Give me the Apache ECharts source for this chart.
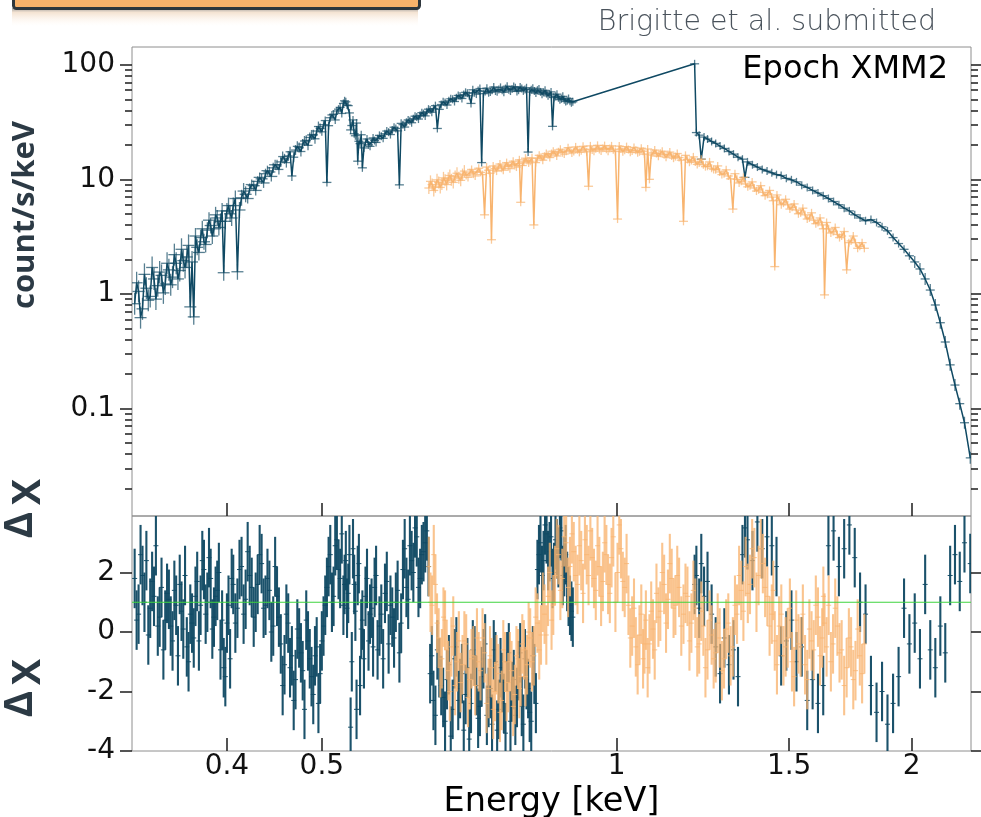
<!DOCTYPE html>
<html>
<head>
<meta charset="utf-8">
<script src="https://cdn.jsdelivr.net/npm/echarts@6/dist/echarts.min.js"></script>
<style>
  html, body { margin: 0; padding: 0; background: #ffffff; }
  #chart { width: 981px; height: 817px; }
</style>
</head>
<body>
<div id="chart"></div>
<script>
// ---- axis ticks -------------------------------------------------------
const energyTicks = [0.4, 0.5, 1, 1.5, 2];
const rateMajorTicks = [0.1, 1, 10, 100];
const rateMinorTicks = [0.02, 0.03, 0.04, 0.05, 0.06, 0.07, 0.08, 0.09,
  0.2, 0.3, 0.4, 0.5, 0.6, 0.7, 0.8, 0.9, 2, 3, 4, 5, 6, 7, 8, 9,
  20, 30, 40, 50, 60, 70, 80, 90];
const residualTicks = [-4, -2, 0, 2];
const referenceLevel = 1;
const residualSigma = 1;

// ---- XMM2 spectrum, soft band (keV, count/s/keV, residual) ------------
const darkLowE = [
  0.322, 0.325, 0.328, 0.331, 0.334, 0.337, 0.340, 0.343, 0.346, 0.349,
  0.352, 0.355, 0.358, 0.361, 0.364, 0.367, 0.370, 0.373, 0.376, 0.379,
  0.382, 0.385, 0.388, 0.391, 0.394, 0.397, 0.400, 0.403, 0.406, 0.410,
  0.414, 0.418, 0.422, 0.426, 0.430, 0.434, 0.438, 0.442, 0.446, 0.450,
  0.454, 0.458, 0.462, 0.466, 0.470, 0.474, 0.478, 0.482, 0.486, 0.490,
  0.494, 0.498, 0.502, 0.506, 0.510, 0.514, 0.518, 0.522, 0.526, 0.529,
  0.532, 0.535, 0.538, 0.541, 0.544, 0.547, 0.550, 0.554, 0.558, 0.562,
  0.566, 0.570, 0.575, 0.580, 0.585, 0.590, 0.595, 0.600, 0.605, 0.610,
  0.615, 0.620, 0.625, 0.630, 0.635, 0.640, 0.645, 0.650, 0.656, 0.662,
  0.668, 0.674, 0.680, 0.686, 0.692, 0.698, 0.704, 0.710, 0.716, 0.722,
  0.728, 0.734, 0.740, 0.746, 0.752, 0.758, 0.764, 0.770, 0.776, 0.782,
  0.788, 0.794, 0.800, 0.806, 0.812, 0.818, 0.824, 0.830, 0.836, 0.842,
  0.848, 0.854, 0.860, 0.866, 0.872, 0.878, 0.884, 0.890, 0.896, 0.902
];
const darkLowFlux = [
  0.82, 1.05, 0.74, 1.12, 0.95, 1.35, 1.18, 1.45, 1.22, 1.62,
  1.40, 1.85, 1.60, 1.95, 2.10, 0.77, 0.63, 2.55, 3.10, 2.85,
  3.60, 3.95, 3.70, 4.60, 4.30, 1.53, 5.30, 5.00, 5.90, 1.56,
  6.90, 7.40, 8.30, 8.80, 9.60, 10.1, 11.2, 11.6, 12.6, 13.4,
  14.2, 15.1, 16.0, 10.7, 18.0, 19.0, 20.3, 21.9, 23.2, 24.5,
  26.4, 27.8, 30.0, 9.4, 34.5, 37.0, 39.5, 42.5, 46.0, 47.5,
  44.0, 27.0, 33.0, 24.0, 14.4, 20.5, 12.6, 21.0, 20.0, 21.0,
  21.8, 22.6, 23.8, 25.0, 25.8, 27.0, 27.8, 8.95, 30.0, 31.5,
  32.4, 33.8, 35.0, 36.2, 37.5, 39.0, 40.2, 41.5, 27.8, 45.0,
  46.8, 48.5, 50.0, 51.5, 53.5, 55.0, 56.5, 46.0, 57.0, 59.5,
  14.0, 58.5, 57.0, 60.0, 59.0, 61.0, 60.0, 62.0, 60.5, 61.5,
  63.0, 60.0, 62.0, 61.0, 17.3, 60.5, 59.0, 60.0, 58.0, 57.5,
  56.0, 55.5, 29.0, 53.0, 51.5, 50.5, 49.5, 48.5, 48.0, 47.5
];
const darkLowRes = [
  1.8, 0.6, 1.9, 2.4, 0.8, 1.2, 0.2, 1.5, 0.4, 1.1,
  -0.3, 0.9, 1.6, 0.1, -0.5, 0.6, -0.2, 1.7, 0.9, 2.1,
  1.0, 1.8, 0.5, 1.4, -0.6, -1.2, 0.3, -0.9, 1.6, 0.8,
  2.2, 1.1, 1.9, 0.5, 1.6, 2.3, 0.9, 1.4, 0.2, 1.2,
  -0.4, -1.1, 0.3, -0.8, -1.6, -0.2, -1.3, 0.4, -0.9, -2.1,
  -0.5, -1.4, 0.2, 1.5, 2.6, 1.2, 3.1, 1.8, 0.9, 2.4,
  1.3, -3.2, 2.8, 0.7, 1.9, -1.8, 0.4, 1.2, -0.3, 0.8,
  1.5, -0.6, 0.6, 1.3, -0.4, 0.5, 1.0, -0.7, 2.1, 1.5,
  2.9, 2.0, 3.2, 1.8, 2.7, 3.4, -1.4, -2.3, -0.6, -1.8,
  -3.0, -1.1, -2.6, -0.5, -1.9, -3.3, -1.2, -2.4, -0.8, -2.9,
  -1.5, -0.4, -2.2, -3.1, -1.0, -2.6, -1.7, -3.4, -0.7, -2.0,
  -2.8, -1.3, -2.5, -0.9, -1.9, -3.0, -1.4, 2.1, 3.0, 2.4,
  3.3, 2.7, 1.8, 3.1, 2.5, 3.4, 2.2, 1.7, 0.9, 0.5
];

// second set of soft-band channels, interleaved with the first
const darkLowE2 = [
  0.3235, 0.3265, 0.3295, 0.3325, 0.3355, 0.3385, 0.3415, 0.3445, 0.3475, 0.3505,
  0.3535, 0.3565, 0.3595, 0.3625, 0.3655, 0.3685, 0.3715, 0.3745, 0.3775, 0.3805,
  0.3835, 0.3865, 0.3895, 0.3925, 0.3955, 0.3985, 0.4015, 0.4045, 0.408, 0.412,
  0.416, 0.420, 0.424, 0.428, 0.432, 0.436, 0.440, 0.444, 0.448, 0.452,
  0.456, 0.460, 0.464, 0.468, 0.472, 0.476, 0.480, 0.484, 0.488, 0.492,
  0.496, 0.500, 0.504, 0.508, 0.512, 0.516, 0.520, 0.524, 0.5275, 0.5305,
  0.5335, 0.5365, 0.5395, 0.5425, 0.5455, 0.5485, 0.552, 0.556, 0.560, 0.564,
  0.568, 0.5725, 0.5775, 0.5825, 0.5875, 0.5925, 0.5975, 0.6025, 0.6075, 0.6125,
  0.6175, 0.6225, 0.6275, 0.6325, 0.6375, 0.6425, 0.6475, 0.653, 0.659, 0.665,
  0.671, 0.677, 0.683, 0.689, 0.695, 0.701, 0.707, 0.713, 0.719, 0.725,
  0.731, 0.737, 0.743, 0.749, 0.755, 0.761, 0.767, 0.773, 0.779, 0.785,
  0.791, 0.797, 0.803, 0.809, 0.815, 0.821, 0.827, 0.833, 0.839, 0.845,
  0.851, 0.857, 0.863, 0.869, 0.875, 0.881, 0.887, 0.893, 0.899
];
const darkLowFlux2 = [
  1.25, 0.62, 1.48, 0.88, 1.70, 0.90, 1.55, 1.02, 1.85, 1.20,
  2.20, 1.35, 2.45, 1.70, 2.65, 1.90, 3.20, 2.30, 3.70, 2.70,
  4.40, 3.20, 4.90, 3.80, 5.30, 4.30, 5.90, 4.60, 6.80, 5.40,
  7.90, 6.80, 9.00, 8.00, 10.4, 9.30, 11.9, 10.6, 13.4, 12.2,
  15.8, 14.0, 17.4, 15.6, 19.4, 17.5, 21.6, 19.8, 24.4, 22.6,
  28.9, 26.0, 32.6, 29.4, 36.5, 33.0, 41.0, 37.6, 48.5, 44.5,
  38.0, 29.5, 25.0, 31.0, 21.5, 24.5, 18.8, 22.5, 19.4, 23.0,
  21.0, 24.2, 22.8, 26.4, 24.6, 28.5, 26.5, 30.8, 28.6, 33.0,
  31.2, 35.6, 33.6, 38.2, 35.8, 41.0, 38.6, 44.0, 40.8, 47.5,
  44.5, 50.5, 47.8, 54.0, 50.8, 57.5, 53.6, 60.5, 55.5, 62.0,
  56.0, 62.5, 57.8, 64.0, 58.2, 63.5, 57.6, 65.0, 59.0, 64.5,
  58.5, 64.0, 59.2, 63.0, 57.8, 62.5, 56.6, 61.5, 55.4, 59.8,
  53.6, 58.0, 51.8, 55.4, 49.6, 53.0, 47.8, 50.8, 46.6
];
const darkLowRes2 = [
  0.4, 2.6, 1.0, -0.1, 1.7, 2.9, 0.5, -0.6, 1.3, 0.2,
  1.4, -0.8, 0.7, 1.9, -1.0, 0.3, 1.2, -0.3, 2.4, 0.6,
  2.5, 0.1, 1.2, 2.0, 0.4, -1.5, 0.9, 1.8, 0.3, 2.1,
  0.6, 2.7, 1.5, 1.0, 2.6, 0.8, 1.8, 0.0, 2.2, 0.5,
  -1.8, 0.6, -1.2, -2.3, 0.1, -0.7, -2.6, -0.3, -1.5, -0.8,
  -2.4, -0.3, 0.9, 2.2, 1.0, 2.9, 2.1, 3.3, 1.6, 0.8,
  2.6, -1.0, 1.6, -2.6, 2.3, 0.1, -0.9, 1.8, 0.6, -0.5,
  1.9, 0.2, -0.9, 1.7, 0.9, -0.2, 1.4, 0.3, 2.8, 1.1,
  2.4, 3.5, 1.5, 2.6, 3.0, 2.2, -0.8, -2.8, -1.2, -2.2,
  -1.6, -3.5, -0.9, -2.3, -1.4, -2.1, -3.6, -0.6, -1.8, -2.5,
  -0.9, -2.8, -1.9, -0.6, -3.3, -1.2, -2.4, -1.0, -3.0, -1.6,
  -2.2, -0.7, -3.1, -1.6, -2.7, -0.8, -2.4, 2.6, 1.9, 3.6,
  2.4, 3.2, 2.0, 2.8, 3.5, 1.9, 2.6, 1.2, 0.7
];

// ---- XMM2 spectrum, hard band -----------------------------------------
const darkHighE = [
  1.201, 1.206, 1.214, 1.220, 1.228, 1.238, 1.250, 1.262, 1.275, 1.288,
  1.302, 1.316, 1.330, 1.344, 1.352, 1.360, 1.376, 1.392, 1.408, 1.424,
  1.440, 1.456, 1.472, 1.490, 1.508, 1.526, 1.545, 1.565, 1.585, 1.605,
  1.625, 1.645, 1.665, 1.686, 1.707, 1.728, 1.750, 1.772, 1.795, 1.818,
  1.842, 1.866, 1.890, 1.915, 1.940, 1.965, 1.990, 2.015, 2.040, 2.065,
  2.090, 2.115, 2.140, 2.165, 2.190, 2.215, 2.240, 2.265, 2.296
];
const darkHighFlux = [
  102, 25.6, 24.3, 15.0, 23.4, 22.5, 21.4, 20.6, 19.5, 18.6,
  17.5, 16.6, 15.6, 15.0, 10.4, 14.2, 13.4, 12.8, 12.2, 11.8,
  11.4, 11.0, 10.8, 10.2, 9.9, 9.5, 8.9, 8.5, 8.0, 7.6,
  7.2, 6.8, 6.4, 6.0, 5.6, 5.3, 4.9, 4.6, 4.35, 4.45,
  4.2, 3.85, 3.55, 3.1, 2.75, 2.45, 2.15, 1.90, 1.65, 1.35,
  1.08, 0.80, 0.56, 0.38, 0.24, 0.16, 0.11, 0.075, 0.037
];
const darkHighRes = [
  1.6, 1.9, 0.8, 2.3, 1.2, 1.7, 0.6, -0.5, -1.4, -0.2,
  -1.1, -0.6, -1.5, 2.6, 3.5, 3.1, 2.4, 3.7, 2.8, 3.2,
  2.9, 2.2, -0.8, -0.3, 0.4, -1.0, -0.5, -2.3, -1.6, -2.4,
  -1.8, 2.9, 3.4, 2.2, 2.8, 3.6, 2.5, 1.0, 0.6, -1.8,
  -2.7, -2.0, -3.1, -2.4, -1.5, 0.8, -0.4, 0.3, -0.9, 1.6,
  -0.6, -1.2, 0.2, -0.7, 1.9, 2.6, 1.7, 3.0, 2.3
];

// ---- second instrument spectrum ----------------------------------------
const orangeE = [
  0.643, 0.648, 0.653, 0.658, 0.663, 0.668, 0.673, 0.678, 0.684, 0.690,
  0.696, 0.702, 0.708, 0.714, 0.720, 0.726, 0.733, 0.740, 0.745, 0.751,
  0.757, 0.763, 0.769, 0.775, 0.781, 0.787, 0.793, 0.798, 0.804, 0.810,
  0.816, 0.823, 0.830, 0.837, 0.844, 0.851, 0.858, 0.865, 0.872, 0.880,
  0.888, 0.896, 0.904, 0.912, 0.920, 0.928, 0.936, 0.944, 0.952, 0.960,
  0.968, 0.976, 0.984, 0.992, 1.002, 1.010, 1.019, 1.028, 1.037, 1.046,
  1.055, 1.064, 1.071, 1.080, 1.089, 1.098, 1.108, 1.118, 1.128, 1.138,
  1.148, 1.158, 1.170, 1.181, 1.192, 1.203, 1.214, 1.226, 1.238, 1.250,
  1.262, 1.274, 1.287, 1.300, 1.314, 1.327, 1.340, 1.354, 1.368, 1.382,
  1.396, 1.410, 1.425, 1.440, 1.450, 1.465, 1.480, 1.495, 1.510, 1.525,
  1.541, 1.557, 1.573, 1.589, 1.605, 1.621, 1.630, 1.646, 1.663, 1.680,
  1.697, 1.717, 1.735, 1.753, 1.771, 1.790
];
const orangeFlux = [
  8.4, 9.0, 8.6, 9.4, 9.1, 9.8, 10.2, 9.9, 10.6, 10.3,
  11.0, 10.8, 11.4, 11.1, 11.7, 11.5, 4.9, 12.0, 2.97, 12.4,
  12.8, 12.5, 13.1, 12.9, 13.5, 13.2, 13.8, 6.3, 14.2, 14.6,
  14.4, 4.0, 15.2, 15.6, 15.9, 16.4, 16.8, 17.0, 17.4, 17.1,
  17.6, 17.9, 17.5, 18.1, 17.8, 18.3, 8.7, 18.0, 18.5, 18.2,
  18.7, 18.3, 18.6, 18.1, 4.5, 18.4, 17.9, 18.2, 17.7, 17.9,
  17.4, 17.6, 8.5, 10.0, 17.0, 16.8, 16.9, 16.4, 16.5, 16.0,
  15.8, 15.5, 4.3, 14.9, 14.6, 14.2, 13.9, 13.4, 13.0, 12.5,
  12.1, 11.6, 11.2, 10.7, 5.5, 10.0, 9.6, 9.1, 8.8, 8.4,
  8.1, 7.7, 7.4, 7.0, 1.73, 6.6, 6.2, 6.0, 5.7, 5.4,
  5.1, 4.9, 4.6, 4.4, 4.2, 4.0, 0.98, 3.7, 3.5, 3.3,
  3.2, 1.62, 2.9, 2.8, 2.6, 2.5
];
const orangeRes = [
  2.2, 0.9, 1.6, -0.2, -0.9, 0.4, -1.3, -0.5, -1.8, -0.3,
  -1.1, -0.4, -1.6, -0.8, -0.2, -1.3, -0.7, -1.9, -1.2, -2.0,
  -1.4, -2.3, -1.0, -1.7, -1.3, -2.1, -0.9, -1.5, -0.6, -1.1,
  -0.2, -0.8, 0.3, -0.1, 0.6, 1.2, 0.4, 1.9, 2.6, 1.8,
  3.0, 2.2, 2.7, 1.6, 2.4, 3.1, 1.9, 2.5, 1.4, 2.2,
  1.7, 2.6, 1.3, 3.2, 2.0, 2.8, 1.5, 0.9, 0.2, -0.5,
  -0.1, -0.9, 0.4, -0.4, 0.1, 1.3, 0.7, 1.6, 1.1, 1.8,
  0.9, 1.5, 0.6, 1.2, 0.3, 0.8, -0.4, 0.2, -0.6, -0.1,
  -0.7, -0.2, -0.9, 0.3, -0.5, 0.6, 1.4, 2.2, 1.6, 2.5,
  1.9, 2.3, 1.2, 0.6, -0.3, 0.2, -0.8, -0.2, -1.0, 0.4,
  -0.5, -1.1, 0.1, -0.6, 0.5, -0.2, 0.3, 0.9, -0.4, 0.2,
  -0.6, -1.2, -0.5, -1.3, -0.8, -0.4
];

// interleaved channels of the second instrument
const orangeE2 = [
  0.6455, 0.6505, 0.6555, 0.6605, 0.6655, 0.6705, 0.6755, 0.681, 0.687, 0.693,
  0.699, 0.705, 0.711, 0.717, 0.723, 0.7295, 0.7365, 0.7425, 0.748, 0.754,
  0.760, 0.766, 0.772, 0.778, 0.784, 0.790, 0.7955, 0.801, 0.807, 0.813,
  0.8195, 0.8265, 0.8335, 0.8405, 0.8475, 0.8545, 0.8615, 0.8685, 0.876, 0.884,
  0.892, 0.900, 0.908, 0.916, 0.924, 0.932, 0.940, 0.948, 0.956, 0.964,
  0.972, 0.980, 0.988, 0.997, 1.006, 1.0145, 1.0235, 1.0325, 1.0415, 1.0505,
  1.0595, 1.0675, 1.0755, 1.0845, 1.0935, 1.103, 1.113, 1.123, 1.133, 1.143,
  1.153, 1.164, 1.1755, 1.1865, 1.1975, 1.2085, 1.220, 1.232, 1.244, 1.256,
  1.268, 1.2805, 1.2935, 1.307, 1.3205, 1.3335, 1.347, 1.361, 1.375, 1.389,
  1.403, 1.4175, 1.4325, 1.445, 1.4575, 1.4725, 1.4875, 1.5025, 1.5175, 1.533,
  1.549, 1.565, 1.581, 1.597, 1.613, 1.6255, 1.638, 1.6545, 1.6715, 1.6885,
  1.707, 1.726, 1.744, 1.762, 1.7805
];
const orangeFlux2 = [
  9.6, 8.0, 9.9, 8.5, 10.3, 9.0, 10.8, 9.4, 11.3, 9.8,
  11.8, 10.4, 12.2, 10.7, 12.5, 11.0, 12.8, 11.3, 13.1, 11.8,
  13.6, 12.0, 14.0, 12.4, 14.4, 12.8, 14.8, 13.2, 15.3, 13.9,
  15.4, 14.0, 16.2, 14.7, 16.8, 15.5, 17.6, 16.0, 18.3, 16.6,
  18.9, 17.0, 19.2, 17.2, 19.4, 17.4, 19.6, 17.6, 19.8, 17.7,
  19.7, 17.6, 19.6, 17.5, 19.5, 17.4, 19.3, 17.2, 19.0, 17.1,
  18.7, 16.6, 18.4, 16.3, 18.0, 15.9, 17.6, 15.6, 17.3, 15.3,
  16.8, 14.7, 16.2, 14.1, 15.7, 13.5, 15.0, 12.9, 14.2, 12.2,
  13.1, 11.0, 12.1, 10.1, 11.2, 9.3, 10.4, 8.6, 9.5, 7.9,
  8.8, 7.2, 8.0, 6.5, 7.3, 6.0, 6.7, 5.5, 6.1, 5.0,
  5.6, 4.5, 5.1, 4.1, 4.6, 3.7, 4.2, 3.4, 3.8, 3.1,
  3.5, 2.8, 3.2, 2.5, 2.8
];
const orangeRes2 = [
  1.0, 2.6, 0.3, -1.2, 0.5, -0.6, -2.0, 0.2, -1.0, -1.7,
  -0.3, -2.2, -0.9, -1.8, -1.0, -0.2, -2.4, -0.8, -2.6, -1.1,
  -2.7, -0.6, -2.0, -1.0, -2.5, -0.8, -1.9, -0.4, -1.5, 0.0,
  -1.0, 0.5, -0.6, 1.0, -0.1, 2.0, 0.9, 2.8, 1.4, 3.2,
  1.5, 3.3, 1.9, 2.9, 1.3, 2.6, 3.4, 1.8, 2.9, 1.2,
  3.0, 1.6, 2.5, 1.0, 3.6, 1.7, 2.3, -0.2, 0.8, -1.1,
  0.6, -0.4, -1.2, 0.7, -0.6, 0.5, 2.0, 0.3, 2.3, 0.8,
  1.9, 0.2, 1.3, -0.3, 1.4, -0.5, 0.7, -1.2, 0.4, -0.9,
  0.3, -1.3, 0.1, -0.8, 0.9, 1.9, 0.7, 1.3, 2.8, 1.0,
  2.8, 1.5, 0.2, 1.4, -1.1, 0.6, -0.5, 0.8, -1.5, -0.4,
  0.6, -1.6, -0.3, 0.9, -0.8, 1.2, -0.5, -1.0, 0.8, -0.7,
  -1.8, -0.2, -1.6, 0.1, -1.4
];

// ---- styling --------------------------------------------------------------
const DARK = '#0f4963';
const ORANGE = '#f8b46f';
const TICK = '#1c1c1c';
const FRAME = '#8e8e8e';
const LABEL_FONT = '"DejaVu Sans", sans-serif';

const pairs = (xs, ys) => xs.map((x, i) => [x, ys[i]]);
const byEnergy = (a, b) => a[0] - b[0];

// error cross for the flux panel; sizes in pixels
function fluxCross(color, halfW, halfH) {
  return function (params, api) {
    const e = api.value(0);
    const c = api.coord([e, api.value(1)]);
    const w = halfW(e), h = halfH(e);
    const style = { stroke: color, lineWidth: 1.3, opacity: 0.7 };
    return {
      type: 'group',
      children: [
        { type: 'line', shape: { x1: c[0] - w, y1: c[1], x2: c[0] + w, y2: c[1] }, style },
        { type: 'line', shape: { x1: c[0], y1: c[1] - h, x2: c[0], y2: c[1] + h }, style }
      ]
    };
  };
}

// residual bar: value +/- one sigma with a small centre mark
function residualBar(color, width, opacity) {
  return function (params, api) {
    const e = api.value(0), r = api.value(1);
    const mid = api.coord([e, r]);
    const top = api.coord([e, r + residualSigma]);
    const bot = api.coord([e, r - residualSigma]);
    const style = { stroke: color, lineWidth: width, opacity };
    return {
      type: 'group',
      children: [
        { type: 'line', shape: { x1: mid[0], y1: top[1], x2: mid[0], y2: bot[1] }, style },
        { type: 'line', shape: { x1: mid[0] - 2.5, y1: mid[1], x2: mid[0] + 2.5, y2: mid[1] },
          style: { stroke: color, lineWidth: 1, opacity } }
      ]
    };
  };
}

const fmtNum = v => String(+(+v).toPrecision(3));

const chart = echarts.init(document.getElementById('chart'), null, { renderer: 'canvas' });

const gridBase = { left: 132, width: 839, show: true, borderColor: FRAME, borderWidth: 1,
  backgroundColor: 'transparent', containLabel: false, outerBoundsMode: 'none' };

const tickFont = { fontSize: 28, fontFamily: LABEL_FONT, color: '#111' };

function logY(pos, ticks, len, labels) {
  return {
    type: 'log', gridIndex: 0, position: pos, min: 0.0115, max: 143,
    axisLine: { show: false, onZero: false },
    axisTick: { show: true, inside: false, length: len, customValues: ticks,
      lineStyle: { color: TICK, width: 1.5 } },
    axisLabel: labels ? Object.assign({ show: true, customValues: rateMajorTicks, margin: 17,
      formatter: fmtNum }, tickFont) : { show: false },
    splitLine: { show: false }, minorTick: { show: false }
  };
}

function resY(pos, labels) {
  return {
    type: 'value', gridIndex: 1, position: pos, min: -4, max: 3.9, interval: 2,
    axisLine: { show: false, onZero: false },
    axisTick: { show: true, inside: false, length: 12, customValues: residualTicks,
      lineStyle: { color: TICK, width: 1.5 } },
    axisLabel: labels ? Object.assign({ show: true, customValues: residualTicks, margin: 17 },
      tickFont) : { show: false },
    splitLine: { show: false }
  };
}

function energyAxis(grid, labels) {
  const ax = {
    type: 'log', gridIndex: grid, min: 0.32, max: 2.3,
    axisLine: { show: false, onZero: false },
    axisTick: { show: true, inside: true, length: 13, customValues: energyTicks,
      lineStyle: { color: TICK, width: 1.5 } },
    axisLabel: labels ? Object.assign({ show: true, customValues: energyTicks, margin: 2,
      formatter: fmtNum }, tickFont) : { show: false },
    splitLine: { show: false }, minorTick: { show: false }
  };
  if (labels) {
    ax.name = 'Energy [keV]';
    ax.nameLocation = 'middle';
    ax.nameGap = 34;
    ax.nameTextStyle = { fontSize: 33.5, fontFamily: LABEL_FONT, color: '#000' };
  }
  return ax;
}

const darkFluxHalfW = e => (e < 0.45 ? 6 : 4.5);
const darkFluxHalfH = e => (e < 0.37 ? 11 : e < 0.42 ? 8 : e < 0.5 ? 5 : e > 2.0 ? 6 : 4);
const orangeHalfW = () => 4.5;
const orangeHalfH = e => (e < 0.7 ? 6 : 4);

const darkFlux = pairs(darkLowE, darkLowFlux)
  .concat(pairs(darkLowE2, darkLowFlux2))
  .sort(byEnergy)
  .concat(pairs(darkHighE, darkHighFlux));
const darkRes = pairs(darkLowE, darkLowRes)
  .concat(pairs(darkLowE2, darkLowRes2), pairs(darkHighE, darkHighRes));
const orangeFluxAll = pairs(orangeE, orangeFlux).concat(pairs(orangeE2, orangeFlux2)).sort(byEnergy);
const orangeResAll = pairs(orangeE, orangeRes).concat(pairs(orangeE2, orangeRes2));

const option = {
  animation: false,
  backgroundColor: '#ffffff',
  textStyle: { fontFamily: LABEL_FONT },
  grid: [
    Object.assign({ top: 47, height: 469 }, gridBase),
    Object.assign({ top: 516, height: 235 }, gridBase)
  ],
  xAxis: [energyAxis(0, false), energyAxis(1, true)],
  yAxis: [
    logY('left', rateMajorTicks, 12, true),
    logY('left', rateMinorTicks, 7, false),
    logY('right', rateMajorTicks, 10, false),
    logY('right', rateMinorTicks, 7, false),
    resY('left', true),
    resY('right', false)
  ],
  series: [
    { type: 'custom', name: 'XMM2 crosses', xAxisIndex: 0, yAxisIndex: 0, clip: true,
      encode: { x: 0, y: 1 }, data: darkFlux, z: 2,
      renderItem: fluxCross(DARK, darkFluxHalfW, darkFluxHalfH) },
    { type: 'line', name: 'XMM2', xAxisIndex: 0, yAxisIndex: 0, data: darkFlux, z: 3,
      showSymbol: false, symbol: 'none', clip: true,
      lineStyle: { color: DARK, width: 1.5 } },
    { type: 'custom', name: 'second crosses', xAxisIndex: 0, yAxisIndex: 0, clip: true,
      encode: { x: 0, y: 1 }, data: orangeFluxAll, z: 4,
      renderItem: fluxCross(ORANGE, orangeHalfW, orangeHalfH) },
    { type: 'line', name: 'second', xAxisIndex: 0, yAxisIndex: 0, data: orangeFluxAll, z: 5,
      showSymbol: false, symbol: 'none', clip: true,
      lineStyle: { color: ORANGE, width: 1.5 } },

    { type: 'custom', name: 'XMM2 residuals', xAxisIndex: 1, yAxisIndex: 4, clip: true,
      encode: { x: 0, y: 1 }, data: darkRes, z: 2,
      renderItem: residualBar(DARK, 2.1, 0.95) },
    { type: 'custom', name: 'second residuals', xAxisIndex: 1, yAxisIndex: 4, clip: true,
      encode: { x: 0, y: 1 }, data: orangeResAll, z: 3,
      renderItem: residualBar(ORANGE, 2.1, 0.78) },
    { type: 'line', name: 'reference', xAxisIndex: 1, yAxisIndex: 4, z: 6,
      data: [[0.32, referenceLevel], [2.3, referenceLevel]],
      showSymbol: false, symbol: 'none', lineStyle: { color: '#3fd43f', width: 1.2 } }
  ],
  graphic: [
    // banner strip at the top-left edge
    { type: 'rect', left: 12, top: 8, z: 10,
      shape: { width: 406, height: 18 },
      style: { fill: new echarts.graphic.LinearGradient(0, 0, 0, 1, [
        { offset: 0, color: 'rgba(120,120,120,0.75)' },
        { offset: 0.25, color: 'rgba(235,205,175,0.55)' },
        { offset: 1, color: 'rgba(255,240,225,0)' }]) } },
    { type: 'rect', left: 12, top: -12, z: 11,
      shape: { width: 406, height: 19, r: [0, 0, 3, 3] },
      style: { fill: '#f8b26a', stroke: '#2e363c', lineWidth: 3 } },

    { type: 'text', x: 936, y: 23, z: 12,
      style: { text: 'Brigitte et al. submitted', fontSize: 28.5, fontWeight: 300,
        fontFamily: '"DejaVu Sans", sans-serif',
        fill: '#4a535c', align: 'right', verticalAlign: 'middle' } },
    { type: 'text', x: 948, y: 70, z: 12,
      style: { text: 'Epoch XMM2', fontSize: 32, fontFamily: LABEL_FONT,
        fill: '#000', align: 'right', verticalAlign: 'middle' } },

    { type: 'text', x: 25, y: 215, rotation: Math.PI / 2, z: 12,
      style: { text: 'count/s/keV', fontSize: 31, fontWeight: 'bold', fontFamily: 'Open Sans',
        fill: '#2c3a45', align: 'center', verticalAlign: 'middle' } },

    { type: 'text', x: 21, y: 525, rotation: Math.PI / 2, z: 12,
      style: { text: 'Δ', fontSize: 40, fontWeight: 'bold', fontFamily: 'Open Sans',
        fill: '#2c3a45', align: 'center', verticalAlign: 'middle' } },
    { type: 'text', x: 29, y: 492, rotation: Math.PI / 2, z: 12,
      style: { text: 'X', fontSize: 39, fontWeight: 'bold', fontFamily: 'Open Sans',
        fill: '#2c3a45', align: 'center', verticalAlign: 'middle' } },
    { type: 'text', x: 21, y: 704, rotation: Math.PI / 2, z: 12,
      style: { text: 'Δ', fontSize: 40, fontWeight: 'bold', fontFamily: 'Open Sans',
        fill: '#2c3a45', align: 'center', verticalAlign: 'middle' } },
    { type: 'text', x: 29, y: 672, rotation: Math.PI / 2, z: 12,
      style: { text: 'X', fontSize: 39, fontWeight: 'bold', fontFamily: 'Open Sans',
        fill: '#2c3a45', align: 'center', verticalAlign: 'middle' } }
  ]
};

chart.setOption(option);
</script>
</body>
</html>
